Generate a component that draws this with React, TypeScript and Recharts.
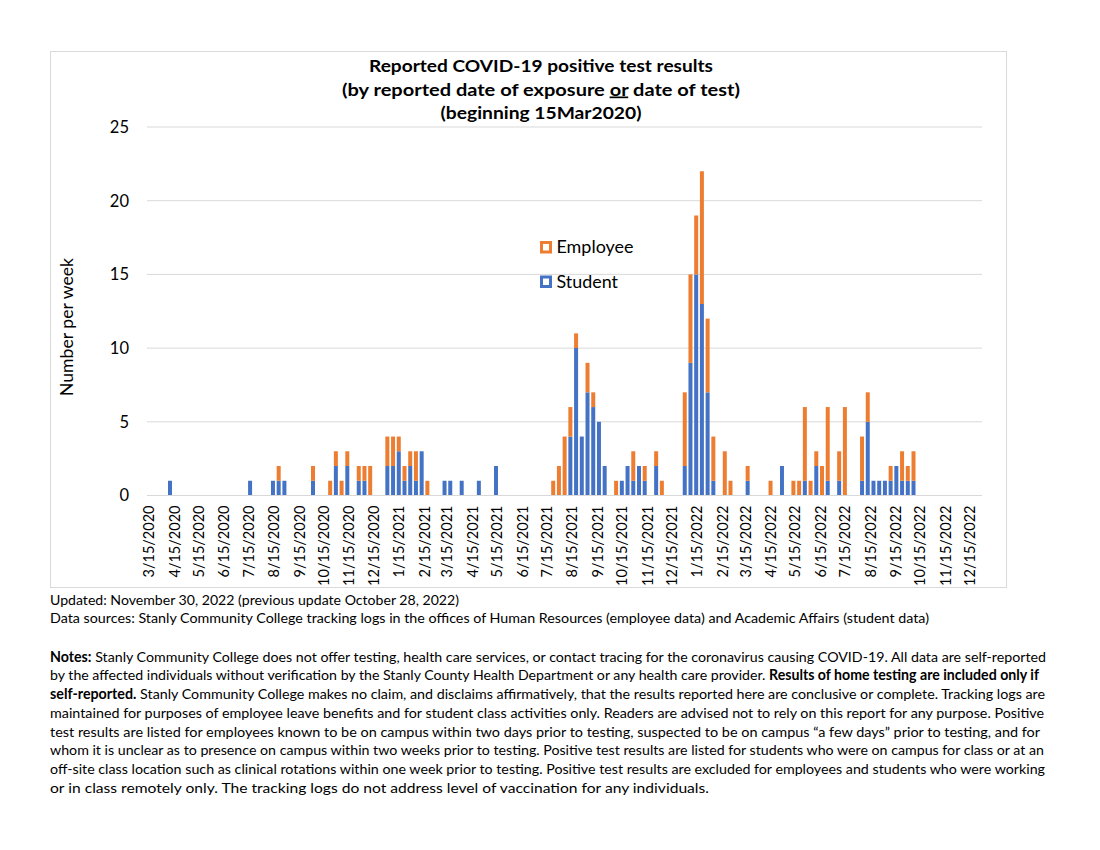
import React from 'react';
import { BarChart, Bar, XAxis, YAxis, CartesianGrid, Legend } from 'recharts';

// Week (starting Sunday) of reported exposure / test
const weekStarts = [
  '2020-04-12', '2020-07-19', '2020-08-16', '2020-08-23', '2020-08-30', '2020-10-04',
  '2020-10-25', '2020-11-01', '2020-11-08', '2020-11-15', '2020-11-29', '2020-12-06',
  '2020-12-13', '2021-01-03', '2021-01-10', '2021-01-17', '2021-01-24', '2021-01-31',
  '2021-02-07', '2021-02-14', '2021-02-21', '2021-03-14', '2021-03-21', '2021-04-04',
  '2021-04-25', '2021-05-16', '2021-07-25', '2021-08-01', '2021-08-08', '2021-08-15',
  '2021-08-22', '2021-08-29', '2021-09-05', '2021-09-12', '2021-09-19', '2021-09-26',
  '2021-10-10', '2021-10-17', '2021-10-24', '2021-10-31', '2021-11-07', '2021-11-14',
  '2021-11-28', '2021-12-05', '2022-01-02', '2022-01-09', '2022-01-16', '2022-01-23',
  '2022-01-30', '2022-02-06', '2022-02-20', '2022-02-27', '2022-03-20', '2022-04-17',
  '2022-05-01', '2022-05-15', '2022-05-22', '2022-05-29', '2022-06-05', '2022-06-12',
  '2022-06-19', '2022-06-26', '2022-07-10', '2022-07-17', '2022-08-07', '2022-08-14',
  '2022-08-21', '2022-08-28', '2022-09-04', '2022-09-11', '2022-09-18', '2022-09-25',
  '2022-10-02', '2022-10-09',
];

const studentCases = [
  1, 1, 1, 1, 1, 1,
  0, 2, 0, 2, 1, 1,
  0, 2, 2, 3, 1, 2,
  1, 3, 0, 1, 1, 1,
  1, 2, 0, 0, 0, 4,
  10, 4, 7, 6, 5, 2,
  0, 1, 2, 1, 2, 1,
  2, 0, 2, 9, 15, 13,
  7, 1, 0, 0, 1, 0,
  2, 0, 0, 1, 0, 2,
  0, 1, 1, 0, 1, 5,
  1, 1, 1, 1, 2, 1,
  1, 1,
];

const employeeCases = [
  0, 0, 0, 1, 0, 1,
  1, 1, 1, 1, 1, 1,
  2, 2, 2, 1, 1, 1,
  2, 0, 1, 0, 0, 0,
  0, 0, 1, 2, 4, 2,
  1, 0, 2, 1, 0, 0,
  1, 0, 0, 2, 0, 1,
  1, 1, 5, 6, 4, 9,
  5, 3, 3, 1, 1, 1,
  0, 1, 1, 5, 1, 1,
  2, 5, 2, 6, 3, 2,
  0, 0, 0, 1, 0, 2,
  1, 2,
];

const xTickLabels = [
  '3/15/2020', '4/15/2020', '5/15/2020', '6/15/2020', '7/15/2020', '8/15/2020',
  '9/15/2020', '10/15/2020', '11/15/2020', '12/15/2020',
  '1/15/2021', '2/15/2021', '3/15/2021', '4/15/2021', '5/15/2021', '6/15/2021',
  '7/15/2021', '8/15/2021', '9/15/2021', '10/15/2021', '11/15/2021', '12/15/2021',
  '1/15/2022', '2/15/2022', '3/15/2022', '4/15/2022', '5/15/2022', '6/15/2022',
  '7/15/2022', '8/15/2022', '9/15/2022', '10/15/2022', '11/15/2022', '12/15/2022',
];

const yTicks = [0, 5, 10, 15, 20, 25];

const legendItems = [
  { name: 'Employee', color: '#ED7D31', textWidth: 77 },
  { name: 'Student', color: '#4472C4', textWidth: 61.5 },
];

const ORIGIN = Date.UTC(2020, 2, 15);
const DAY = 86400000;
const isoToDay = (s: string) => {
  const [y, m, d] = s.split('-').map(Number);
  return Math.round((Date.UTC(y, m - 1, d) - ORIGIN) / DAY);
};
const mdyToDay = (s: string) => {
  const [m, d, y] = s.split('/').map(Number);
  return Math.round((Date.UTC(y, m - 1, d) - ORIGIN) / DAY);
};

const data = weekStarts.map((w, i) => ({
  day: isoToDay(w),
  Student: studentCases[i],
  Employee: employeeCases[i],
}));

const xTickValues = xTickLabels.map(mdyToDay);
const labelByDay = new Map<number, string>(xTickLabels.map((l) => [mdyToDay(l), l]));

const FONT = 'Lato, "Open Sans", sans-serif';

const XTick = (props: any) => {
  const { x, y, payload } = props;
  const label = labelByDay.get(payload.value) ?? '';
  const tx = x + 2;
  return (
    <text
      x={tx}
      y={y}
      transform={`rotate(-90, ${tx}, ${y})`}
      textAnchor="end"
      dy="0.36em"
      fontFamily={FONT}
      fontSize={14.5}
      fill="#000"
    >
      {label}
    </text>
  );
};

const PAD = 8;
const LegendContent = () => (
  <svg width={130} height={64} style={{ display: 'block' }}>
    {legendItems.map((it, i) => {
      const top = PAD + i * 34.5;
      return (
        <g key={it.name}>
          <rect x={1.5} y={top + 1.5} width={9} height={9.5} fill="#fff" stroke={it.color} strokeWidth={3} />
          <text
            x={16.5}
            y={top + 12.3}
            fontFamily={FONT}
            fontSize={17.5}
            fill="#000"
            textLength={it.textWidth}
            lengthAdjust="spacingAndGlyphs"
          >
            {it.name}
          </text>
        </g>
      );
    })}
  </svg>
);

const noteLines: { parts: { t: string; b?: boolean }[]; w: number }[] = [
  {
    parts: [
      { t: 'Notes:', b: true },
      { t: ' Stanly Community College does not offer testing, health care services, or contact tracing for the coronavirus causing COVID-19.  All data are self-reported' },
    ],
    w: 996,
  },
  {
    parts: [
      { t: 'by the affected individuals without verification by the Stanly County Health Department or any health care provider. ' },
      { t: 'Results of home testing are included only if', b: true },
    ],
    w: 989,
  },
  {
    parts: [
      { t: 'self-reported.', b: true },
      { t: ' Stanly Community College makes no claim, and disclaims affirmatively, that the results reported here are conclusive or complete. Tracking logs are' },
    ],
    w: 995,
  },
  {
    parts: [
      { t: 'maintained for purposes of employee leave benefits and for student class activities only. Readers are advised not to rely on this report for any purpose. Positive' },
    ],
    w: 994,
  },
  {
    parts: [
      { t: 'test results are listed for employees known to be on campus within two days prior to testing, suspected to be on campus \u201Ca few days\u201D prior to testing, and for' },
    ],
    w: 990,
  },
  {
    parts: [
      { t: 'whom it is unclear as to presence on campus within two weeks prior to testing. Positive test results are listed for students who were on campus for class or at an' },
    ],
    w: 994,
  },
  {
    parts: [
      { t: 'off-site class location such as clinical rotations within one week prior to testing. Positive test results are excluded for employees and students who were working' },
    ],
    w: 995,
  },
  {
    parts: [
      { t: 'or in class remotely only. The tracking logs do not address level of vaccination for any individuals.' },
    ],
    w: 659,
  },
];

const NOTE_FS = 14.2;

export default function App() {
  return (
    <div style={{ position: 'relative', width: 1084, height: 826, fontFamily: FONT }}>
      <div style={{ position: 'absolute', left: 42, top: 43, width: 957, height: 537 }}>
        <BarChart
          width={957}
          height={537}
          data={data}
          margin={{ top: 76, right: 25, bottom: 0, left: 0 }}
        >
          <CartesianGrid vertical={false} stroke="#d9d9d9" />
          <XAxis
            type="number"
            dataKey="day"
            domain={[0, 1022]}
            allowDataOverflow
            ticks={xTickValues}
            interval={0}
            tick={(p: any) => <XTick {...p} />}
            tickLine={false}
            tickSize={0}
            tickMargin={10}
            height={92.5}
            axisLine={{ stroke: '#d9d9d9' }}
          />
          <YAxis
            domain={[0, 25]}
            ticks={yTicks}
            interval={0}
            width={97}
            axisLine={false}
            tickLine={false}
            tickSize={0}
            tickMargin={18}
            tick={{ fontSize: 16.5, fill: '#000', fontFamily: FONT }}
          />
          <Legend
            layout="vertical"
            verticalAlign="middle"
            align="center"
            wrapperStyle={{ left: 490, top: 189.5 - PAD, width: 130, height: 64 }}
            content={() => <LegendContent />}
          />
          <Bar dataKey="Student" stackId="a" fill="#4472C4" barSize={4} isAnimationActive={false} />
          <Bar dataKey="Employee" stackId="a" fill="#ED7D31" barSize={4} isAnimationActive={false} />
        </BarChart>
      </div>
      <div
        style={{
          position: 'absolute',
          left: 42,
          top: 43,
          width: 957,
          height: 537,
          border: '1px solid #d9d9d9',
          boxSizing: 'border-box',
          pointerEvents: 'none',
        }}
      />
      <svg
        width={1100}
        height={834}
        style={{ position: 'absolute', left: -8, top: -8, pointerEvents: 'none' }}
        fontFamily={FONT}
      >
        <text x={541} y={72} textAnchor="middle" fontWeight="bold" fontSize={17} fill="#000" textLength={344} lengthAdjust="spacingAndGlyphs">
          Reported COVID-19 positive test results
        </text>
        <text x={541} y={95.5} textAnchor="middle" fontWeight="bold" fontSize={17} fill="#000" textLength={398} lengthAdjust="spacingAndGlyphs">
          (by reported date of exposure <tspan style={{ textDecoration: 'underline' }}>or</tspan> date of test)
        </text>
        <text x={541} y={119} textAnchor="middle" fontWeight="bold" fontSize={17} fill="#000" textLength={201} lengthAdjust="spacingAndGlyphs">
          (beginning 15Mar2020)
        </text>
        <text
          transform="translate(73, 327) rotate(-90)"
          x={0}
          y={0}
          textAnchor="middle"
          fontSize={17.5}
          fill="#000"
          textLength={138}
          lengthAdjust="spacingAndGlyphs"
        >
          Number per week
        </text>
        <text x={50} y={604.5} fontSize={NOTE_FS} fill="#000" textLength={409} lengthAdjust="spacingAndGlyphs">
          Updated: November 30, 2022 (previous update October 28, 2022)
        </text>
        <text x={50} y={623.3} fontSize={NOTE_FS} fill="#000" textLength={879} lengthAdjust="spacingAndGlyphs">
          Data sources: Stanly Community College tracking logs in the offices of Human Resources (employee data) and Academic Affairs (student data)
        </text>
        {noteLines.map((ln, i) => (
          <text
            key={i}
            x={50}
            y={661.7 + i * 18.75}
            fontSize={NOTE_FS}
            fill="#000"
            textLength={ln.w}
            lengthAdjust="spacingAndGlyphs"
          >
            {ln.parts.map((p, j) => (
              <tspan key={j} fontWeight={p.b ? 'bold' : 'normal'}>
                {p.t}
              </tspan>
            ))}
          </text>
        ))}
      </svg>
    </div>
  );
}
